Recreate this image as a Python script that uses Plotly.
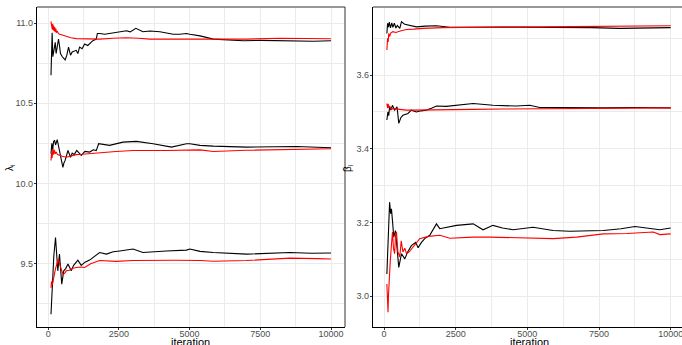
import plotly.graph_objects as go

# ---- lambda panel data (running means) ----
lam_hi_blk_x = [100, 140, 165, 200, 250, 280, 320, 365, 400, 435, 500, 600, 660, 720, 790, 850, 990, 1050, 1110, 1200, 1290, 1400, 1580, 1700, 1740, 1820, 2000, 2170, 2400, 2770, 2900, 3100, 3350, 3600, 3950, 4200, 4420, 4650, 4890, 5010, 5370, 5840, 6400, 6900, 7500, 8200, 8800, 9380, 10000]
lam_hi_blk_y = [10.675, 10.94, 10.79, 10.83, 10.88, 10.81, 10.87, 10.90, 10.86, 10.81, 10.79, 10.77, 10.80, 10.85, 10.80, 10.82, 10.83, 10.81, 10.85, 10.84, 10.87, 10.86, 10.89, 10.90, 10.935, 10.935, 10.93, 10.935, 10.94, 10.952, 10.945, 10.967, 10.946, 10.95, 10.946, 10.935, 10.93, 10.93, 10.935, 10.93, 10.92, 10.90, 10.895, 10.89, 10.892, 10.89, 10.885, 10.887, 10.89]
lam_hi_red_x = [100, 115, 130, 145, 160, 175, 190, 210, 230, 250, 270, 290, 320, 360, 400, 500, 640, 800, 1000, 1350, 1820, 2300, 2770, 3200, 3590, 4200, 5370, 5840, 7000, 8200, 9000, 10000]
lam_hi_red_y = [11.01, 10.97, 11.0, 10.96, 10.995, 10.955, 10.985, 10.95, 10.975, 10.945, 10.965, 10.94, 10.95, 10.935, 10.93, 10.925, 10.915, 10.908, 10.903, 10.90, 10.90, 10.905, 10.908, 10.905, 10.90, 10.90, 10.90, 10.898, 10.90, 10.905, 10.905, 10.902]

lam_mid_blk_x = [100, 130, 160, 190, 225, 260, 320, 380, 460, 520, 560, 600, 700, 790, 850, 920, 1010, 1100, 1170, 1300, 1465, 1600, 1700, 1785, 2170, 2645, 3120, 3710, 4000, 4360, 4890, 5010, 5370, 5840, 7020, 8000, 8790, 9500, 10000]
lam_mid_blk_y = [10.186, 10.25, 10.21, 10.26, 10.27, 10.24, 10.273, 10.22, 10.164, 10.10, 10.13, 10.144, 10.206, 10.164, 10.19, 10.18, 10.206, 10.19, 10.175, 10.20, 10.196, 10.21, 10.205, 10.248, 10.238, 10.258, 10.2625, 10.248, 10.24, 10.227, 10.248, 10.248, 10.238, 10.233, 10.227, 10.23, 10.231, 10.226, 10.223]
lam_mid_red_x = [100, 120, 140, 165, 190, 220, 250, 285, 330, 400, 500, 640, 800, 990, 1200, 1465, 1820, 2400, 3000, 3500, 4180, 5370, 5840, 7000, 8200, 9000, 10000]
lam_mid_red_y = [10.144, 10.19, 10.16, 10.217, 10.18, 10.21, 10.185, 10.196, 10.18, 10.175, 10.17, 10.164, 10.172, 10.18, 10.182, 10.186, 10.196, 10.20, 10.206, 10.205, 10.206, 10.21, 10.20, 10.207, 10.2125, 10.214, 10.217]

lam_lo_blk_x = [100, 150, 200, 260, 300, 340, 400, 440, 480, 550, 620, 700, 815, 900, 1050, 1170, 1300, 1465, 1650, 1820, 2060, 2300, 2530, 3000, 3350, 3700, 4180, 4890, 5010, 5370, 5840, 7020, 8000, 8550, 9300, 10000]
lam_lo_blk_y = [9.186, 9.40, 9.55, 9.664, 9.52, 9.456, 9.56, 9.45, 9.373, 9.456, 9.47, 9.498, 9.456, 9.49, 9.523, 9.49, 9.51, 9.523, 9.55, 9.57, 9.56, 9.575, 9.58, 9.592, 9.57, 9.575, 9.58, 9.585, 9.592, 9.577, 9.57, 9.56, 9.565, 9.57, 9.566, 9.567]
lam_lo_red_x = [100, 120, 150, 200, 260, 310, 365, 420, 470, 520, 580, 640, 750, 850, 990, 1150, 1290, 1500, 1820, 2400, 3000, 3710, 4500, 5370, 5840, 7020, 8000, 8550, 9500, 10000]
lam_lo_red_y = [9.35, 9.39, 9.37, 9.43, 9.47, 9.50, 9.53, 9.49, 9.46, 9.435, 9.44, 9.456, 9.46, 9.47, 9.477, 9.48, 9.477, 9.50, 9.52, 9.515, 9.52, 9.523, 9.522, 9.52, 9.516, 9.52, 9.528, 9.535, 9.532, 9.53]

# ---- beta panel data (running means) ----
bet_hi_blk_x = [100, 125, 155, 185, 225, 270, 310, 360, 415, 465, 550, 610, 725, 840, 980, 1130, 1445, 1830, 2295, 3100, 3690, 4650, 5435, 5900, 7235, 8225, 9300, 10000]
bet_hi_blk_y = [3.713, 3.741, 3.73, 3.744, 3.728, 3.742, 3.73, 3.741, 3.728, 3.735, 3.727, 3.745, 3.738, 3.736, 3.733, 3.731, 3.733, 3.734, 3.73, 3.731, 3.73, 3.73, 3.73, 3.73, 3.729, 3.727, 3.728, 3.729]
bet_hi_red_x = [100, 125, 145, 165, 195, 240, 310, 415, 570, 785, 1035, 1365, 2065, 3100, 4135, 5435, 6720, 8225, 9300, 10000]
bet_hi_red_y = [3.668, 3.70, 3.69, 3.713, 3.705, 3.715, 3.718, 3.716, 3.72, 3.724, 3.725, 3.727, 3.729, 3.731, 3.731, 3.731, 3.732, 3.734, 3.734, 3.734]

bet_mid_blk_x = [100, 135, 165, 195, 240, 295, 370, 455, 515, 590, 660, 835, 955, 1130, 1290, 1480, 1655, 1830, 2170, 2530, 3110, 3800, 4620, 5085, 5435, 5900, 6720, 7650, 8785, 10000]
bet_mid_blk_y = [3.478, 3.50, 3.49, 3.514, 3.505, 3.518, 3.505, 3.514, 3.469, 3.485, 3.491, 3.496, 3.505, 3.50, 3.503, 3.505, 3.51, 3.516, 3.515, 3.518, 3.523, 3.518, 3.516, 3.518, 3.512, 3.512, 3.511, 3.511, 3.512, 3.511]
bet_mid_red_x = [100, 125, 145, 165, 195, 240, 310, 415, 570, 785, 1035, 1480, 2065, 3100, 4135, 5435, 6720, 8270, 10000]
bet_mid_red_y = [3.523, 3.51, 3.522, 3.512, 3.516, 3.508, 3.509, 3.508, 3.506, 3.505, 3.505, 3.505, 3.506, 3.507, 3.508, 3.509, 3.509, 3.51, 3.511]

bet_lo_blk_x = [100, 135, 165, 195, 230, 260, 300, 340, 400, 455, 515, 610, 725, 825, 955, 1105, 1190, 1300, 1420, 1595, 1705, 1830, 1945, 2170, 2530, 3110, 3455, 3800, 4135, 4505, 5200, 5900, 6480, 7650, 8270, 8755, 9620, 10000]
bet_lo_blk_y = [3.06, 3.15, 3.22, 3.255, 3.224, 3.237, 3.20, 3.16, 3.178, 3.12, 3.078, 3.115, 3.101, 3.12, 3.137, 3.146, 3.131, 3.145, 3.156, 3.165, 3.18, 3.196, 3.183, 3.187, 3.192, 3.196, 3.18, 3.192, 3.185, 3.18, 3.187, 3.178, 3.176, 3.178, 3.183, 3.189, 3.18, 3.185]
bet_lo_red_x = [100, 125, 140, 155, 175, 195, 220, 260, 295, 330, 370, 405, 435, 485, 550, 600, 660, 725, 785, 880, 955, 1085, 1245, 1550, 1945, 2295, 3100, 3690, 4650, 5435, 5900, 6720, 7650, 8475, 9395, 9620, 10000]
bet_lo_red_y = [3.033, 3.00, 2.956, 3.00, 3.042, 3.07, 3.097, 3.14, 3.174, 3.13, 3.115, 3.17, 3.174, 3.12, 3.106, 3.15, 3.12, 3.13, 3.115, 3.12, 3.128, 3.14, 3.156, 3.162, 3.165, 3.157, 3.16, 3.16, 3.158, 3.157, 3.156, 3.16, 3.169, 3.17, 3.174, 3.167, 3.169]

x_ticks = [0, 2500, 5000, 7500, 10000]
x_ticklabels = ["0", "2500", "5000", "7500", "10000"]
lam_ticks = [9.5, 10.0, 10.5, 11.0]
bet_ticks = [3.0, 3.2, 3.4, 3.6]

W, H = 682, 345
fig = go.Figure()
FONT = "Liberation Sans, Arial, sans-serif"

def add(xs, ys, color, xa, ya):
    fig.add_trace(go.Scatter(x=xs, y=ys, mode="lines", line=dict(color=color, width=1.1),
                             xaxis=xa, yaxis=ya, showlegend=False, hoverinfo="skip"))

for xs, ys, c in [(lam_hi_blk_x, lam_hi_blk_y, "black"), (lam_mid_blk_x, lam_mid_blk_y, "black"), (lam_lo_blk_x, lam_lo_blk_y, "black"),
                  (lam_hi_red_x, lam_hi_red_y, "red"), (lam_mid_red_x, lam_mid_red_y, "red"), (lam_lo_red_x, lam_lo_red_y, "red")]:
    add(xs, ys, c, "x", "y")
for xs, ys, c in [(bet_hi_blk_x, bet_hi_blk_y, "black"), (bet_mid_blk_x, bet_mid_blk_y, "black"), (bet_lo_blk_x, bet_lo_blk_y, "black"),
                  (bet_hi_red_x, bet_hi_red_y, "red"), (bet_mid_red_x, bet_mid_red_y, "red"), (bet_lo_red_x, bet_lo_red_y, "red")]:
    add(xs, ys, c, "x2", "y2")

ydom = [1 - 327 / H, 1 - 7 / H]
x1dom = [37 / W, 345 / W]
x2dom = [373 / W, 1.0]
tickfont = dict(family=FONT, size=9, color="#4D4D4D")
grid = "#EBEBEB"

common_x = dict(tickvals=x_ticks, ticktext=x_ticklabels, showgrid=True, gridcolor=grid, gridwidth=1,
                minor=dict(dtick=1250, tick0=1250, showgrid=True, gridcolor=grid, gridwidth=0.6),
                zeroline=False, showline=True, linecolor="black", linewidth=1.3,
                ticks="outside", ticklen=2, tickcolor="#333333", tickwidth=0.8,
                ticklabelstandoff=-4, ticklabeloverflow="allow",
                tickfont=tickfont, automargin=False)
common_y = dict(showgrid=True, gridcolor=grid, gridwidth=1, zeroline=False, showline=True,
                linecolor="black", linewidth=1.3, ticks="outside", ticklen=2, tickcolor="#333333",
                tickwidth=0.8, ticklabelstandoff=-1, tickfont=tickfont, automargin=False, domain=ydom)

def px(xp):
    return xp / W

def py(yp):
    return 1 - yp / H

annotations = [
    dict(text="iteration", x=px(191), y=py(342), xref="paper", yref="paper", showarrow=False,
         xanchor="center", yanchor="middle", font=dict(family=FONT, size=11, color="black")),
    dict(text="iteration", x=px(529), y=py(342), xref="paper", yref="paper", showarrow=False,
         xanchor="center", yanchor="middle", font=dict(family=FONT, size=11, color="black")),
    dict(text="λ<sub>i</sub>", x=px(10), y=py(168), xref="paper", yref="paper", showarrow=False,
         xanchor="center", yanchor="middle", textangle=-90, font=dict(family=FONT, size=10, color="black")),
    dict(text="β<sub>i</sub>", x=px(348), y=py(168), xref="paper", yref="paper", showarrow=False,
         xanchor="center", yanchor="middle", textangle=-90, font=dict(family=FONT, size=10, color="black")),
]

fig.update_layout(
    width=W, height=H, margin=dict(l=0, r=0, t=0, b=0),
    paper_bgcolor="white", plot_bgcolor="white",
    xaxis=dict(domain=x1dom, range=[-395, 10495], anchor="y", **common_x),
    yaxis=dict(range=[9.106, 11.1], tickvals=lam_ticks, ticktext=["9.5", "10.0", "10.5", "11.0"],
               minor=dict(tickvals=[9.25, 9.75, 10.25, 10.75], showgrid=True, gridcolor=grid, gridwidth=0.6),
               anchor="x", **common_y),
    xaxis2=dict(domain=x2dom, range=[-384, 10395], anchor="y2", **common_x),
    yaxis2=dict(range=[2.916, 3.785], tickvals=bet_ticks, ticktext=["3.0", "3.2", "3.4", "3.6"],
                minor=dict(tickvals=[2.9, 3.1, 3.3, 3.5, 3.7], showgrid=True, gridcolor=grid, gridwidth=0.6),
                anchor="x2", **common_y),
    annotations=annotations,
    shapes=[
        dict(type="line", xref="paper", yref="paper", x0=x1dom[0], x1=x1dom[1], y0=ydom[1], y1=ydom[1], line=dict(color="#333333", width=1)),
        dict(type="line", xref="paper", yref="paper", x0=x1dom[1], x1=x1dom[1], y0=ydom[0], y1=ydom[1], line=dict(color="#333333", width=1)),
        dict(type="line", xref="paper", yref="paper", x0=x2dom[0], x1=x2dom[1], y0=ydom[1], y1=ydom[1], line=dict(color="#333333", width=1)),
    ],
)

fig.write_html("out.html")
